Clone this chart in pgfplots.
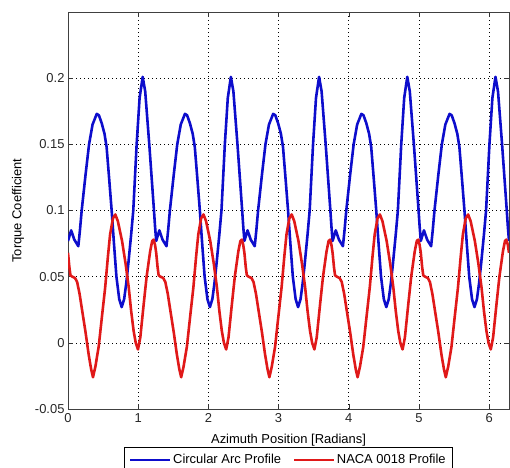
\documentclass[border=0pt]{standalone}
\usepackage{pgfplots}
\pgfplotsset{compat=1.18}
\usepackage{fontspec}
\setmainfont{Liberation Sans}
\definecolor{cblue}{rgb}{0.05,0.05,0.80}
\definecolor{cred}{rgb}{0.88,0.10,0.10}
\begin{document}
\begin{tikzpicture}
\useasboundingbox (0,0) rectangle (510bp,468bp);
\begin{axis}[
  at={(68bp,59bp)}, anchor=south west,
  scale only axis, width=441bp, height=397bp,
  xmin=0, xmax=6.2832, ymin=-0.05, ymax=0.25,
  xtick={0,1,2,3,4,5,6},
  ytick={-0.05,0,0.05,0.1,0.15,0.2},
  yticklabels={-0.05,0,0.05,0.1,0.15,0.2},
  xticklabels={0,1,2,3,4,5,6},
  scaled y ticks=false,
  tick align=inside, major tick length=5bp,
  tick style={black!80, line width=0.5pt},
  axis line style={black!75, line width=0.8pt},
  grid=major,
  grid style={black, line width=0.6pt, dash pattern=on 1bp off 3bp},
  font=\fontsize{13}{15}\selectfont,
  tick label style={font=\fontsize{13}{15}\selectfont, text=black!85},
  xticklabel style={yshift=-1bp},
  xlabel={Azimuth Position [Radians]},
  ylabel={Torque Coefficient},
  xlabel style={at={(axis description cs:0.5,-0.078)}, anchor=center, font=\fontsize{13}{15}\selectfont},
  ylabel style={at={(axis description cs:-0.1134,0.5)}, anchor=center, font=\fontsize{13}{15}\selectfont},
  legend columns=2,
  legend style={at={(axis description cs:0.5,-0.0957)}, anchor=north, draw=black, line width=0.6pt,
    font=\fontsize{13}{15}\selectfont, inner xsep=5bp, inner ysep=5bp,
    /tikz/every even column/.append style={column sep=10bp}},
  legend image code/.code={\draw[#1, line width=1.8pt] (0bp,0bp) -- (40bp,0bp);},
]
\addplot[cblue, line width=2.6pt, line join=round] coordinates {
(0,0.077)(0.045,0.085)(0.09,0.078)(0.147,0.073)(0.17,0.085)(0.195,0.100)(0.25,0.127)(0.30,0.150)(0.35,0.165)(0.41,0.173)(0.44,0.172)(0.48,0.166)(0.52,0.158)(0.55,0.148)(0.585,0.125)(0.622,0.100)(0.655,0.075)(0.69,0.050)(0.73,0.033)(0.765,0.027)(0.80,0.033)(0.83,0.045)(0.86,0.060)(0.90,0.082)(0.93,0.100)(0.978,0.150)(1.02,0.185)(1.064,0.201)(1.10,0.190)(1.158,0.150)(1.225,0.100)(1.24,0.088)
(1.2566,0.077)(1.3016,0.085)(1.3466,0.078)(1.4036,0.073)(1.4266,0.085)(1.4516,0.100)(1.5066,0.127)(1.5566,0.150)(1.6066,0.165)(1.6666,0.173)(1.6966,0.172)(1.7366,0.166)(1.7766,0.158)(1.8066,0.148)(1.8416,0.125)(1.8786,0.100)(1.9116,0.075)(1.9466,0.050)(1.9866,0.033)(2.0216,0.027)(2.0566,0.033)(2.0866,0.045)(2.1166,0.060)(2.1566,0.082)(2.1866,0.100)(2.2346,0.150)(2.2766,0.185)(2.3206,0.201)(2.3566,0.190)(2.4146,0.150)(2.4816,0.100)(2.4966,0.088)
(2.5133,0.077)(2.5583,0.085)(2.6033,0.078)(2.6603,0.073)(2.6833,0.085)(2.7083,0.100)(2.7633,0.127)(2.8133,0.150)(2.8633,0.165)(2.9233,0.173)(2.9533,0.172)(2.9933,0.166)(3.0333,0.158)(3.0633,0.148)(3.0983,0.125)(3.1353,0.100)(3.1683,0.075)(3.2033,0.050)(3.2433,0.033)(3.2783,0.027)(3.3133,0.033)(3.3433,0.045)(3.3733,0.060)(3.4133,0.082)(3.4433,0.100)(3.4913,0.150)(3.5333,0.185)(3.5773,0.201)(3.6133,0.190)(3.6713,0.150)(3.7383,0.100)(3.7533,0.088)
(3.7699,0.077)(3.8149,0.085)(3.8599,0.078)(3.9169,0.073)(3.9399,0.085)(3.9649,0.100)(4.0199,0.127)(4.0699,0.150)(4.1199,0.165)(4.1799,0.173)(4.2099,0.172)(4.2499,0.166)(4.2899,0.158)(4.3199,0.148)(4.3549,0.125)(4.3919,0.100)(4.4249,0.075)(4.4599,0.050)(4.4999,0.033)(4.5349,0.027)(4.5699,0.033)(4.5999,0.045)(4.6299,0.060)(4.6699,0.082)(4.6999,0.100)(4.7479,0.150)(4.7899,0.185)(4.8339,0.201)(4.8699,0.190)(4.9279,0.150)(4.9949,0.100)(5.0099,0.088)
(5.0265,0.077)(5.0715,0.085)(5.1165,0.078)(5.1735,0.073)(5.1965,0.085)(5.2215,0.100)(5.2765,0.127)(5.3265,0.150)(5.3765,0.165)(5.4365,0.173)(5.4665,0.172)(5.5065,0.166)(5.5465,0.158)(5.5765,0.148)(5.6115,0.125)(5.6485,0.100)(5.6815,0.075)(5.7165,0.050)(5.7565,0.033)(5.7915,0.027)(5.8265,0.033)(5.8565,0.045)(5.8865,0.060)(5.9265,0.082)(5.9565,0.100)(6.0045,0.150)(6.0465,0.185)(6.0905,0.201)(6.1265,0.190)(6.1845,0.150)(6.2515,0.100)(6.2665,0.088)(6.2832,0.077)
};
\addlegendentry{Circular Arc Profile}
\addplot[cred, line width=2.6pt, line join=round] coordinates {
(0,0.068)(0.02,0.057)(0.035,0.051)(0.06,0.050)(0.10,0.049)(0.13,0.046)(0.165,0.037)(0.20,0.025)(0.25,0.008)(0.295,-0.009)(0.33,-0.020)(0.356,-0.026)(0.39,-0.018)(0.437,-0.003)(0.48,0.018)(0.53,0.042)(0.57,0.066)(0.60,0.082)(0.64,0.094)(0.674,0.097)(0.71,0.092)(0.77,0.077)(0.82,0.060)(0.865,0.042)(0.90,0.024)(0.935,0.009)(0.965,0.000)(0.997,-0.005)(1.03,0.004)(1.078,0.029)(1.12,0.050)(1.17,0.069)(1.20,0.077)(1.22,0.078)(1.24,0.074)
(1.2566,0.068)(1.2766,0.057)(1.2916,0.051)(1.3166,0.050)(1.3566,0.049)(1.3866,0.046)(1.4216,0.037)(1.4566,0.025)(1.5066,0.008)(1.5516,-0.009)(1.5866,-0.020)(1.6126,-0.026)(1.6466,-0.018)(1.6936,-0.003)(1.7366,0.018)(1.7866,0.042)(1.8266,0.066)(1.8566,0.082)(1.8966,0.094)(1.9306,0.097)(1.9666,0.092)(2.0266,0.077)(2.0766,0.060)(2.1216,0.042)(2.1566,0.024)(2.1916,0.009)(2.2216,0.000)(2.2536,-0.005)(2.2866,0.004)(2.3346,0.029)(2.3766,0.050)(2.4266,0.069)(2.4566,0.077)(2.4766,0.078)(2.4966,0.074)
(2.5133,0.068)(2.5333,0.057)(2.5483,0.051)(2.5733,0.050)(2.6133,0.049)(2.6433,0.046)(2.6783,0.037)(2.7133,0.025)(2.7633,0.008)(2.8083,-0.009)(2.8433,-0.020)(2.8693,-0.026)(2.9033,-0.018)(2.9503,-0.003)(2.9933,0.018)(3.0433,0.042)(3.0833,0.066)(3.1133,0.082)(3.1533,0.094)(3.1873,0.097)(3.2233,0.092)(3.2833,0.077)(3.3333,0.060)(3.3783,0.042)(3.4133,0.024)(3.4483,0.009)(3.4783,0.000)(3.5103,-0.005)(3.5433,0.004)(3.5913,0.029)(3.6333,0.050)(3.6833,0.069)(3.7133,0.077)(3.7333,0.078)(3.7533,0.074)
(3.7699,0.068)(3.7899,0.057)(3.8049,0.051)(3.8299,0.050)(3.8699,0.049)(3.8999,0.046)(3.9349,0.037)(3.9699,0.025)(4.0199,0.008)(4.0649,-0.009)(4.0999,-0.020)(4.1259,-0.026)(4.1599,-0.018)(4.2069,-0.003)(4.2499,0.018)(4.2999,0.042)(4.3399,0.066)(4.3699,0.082)(4.4099,0.094)(4.4439,0.097)(4.4799,0.092)(4.5399,0.077)(4.5899,0.060)(4.6349,0.042)(4.6699,0.024)(4.7049,0.009)(4.7349,0.000)(4.7669,-0.005)(4.7999,0.004)(4.8479,0.029)(4.8899,0.050)(4.9399,0.069)(4.9699,0.077)(4.9899,0.078)(5.0099,0.074)
(5.0265,0.068)(5.0465,0.057)(5.0615,0.051)(5.0865,0.050)(5.1265,0.049)(5.1565,0.046)(5.1915,0.037)(5.2265,0.025)(5.2765,0.008)(5.3215,-0.009)(5.3565,-0.020)(5.3825,-0.026)(5.4165,-0.018)(5.4635,-0.003)(5.5065,0.018)(5.5565,0.042)(5.5965,0.066)(5.6265,0.082)(5.6665,0.094)(5.7005,0.097)(5.7365,0.092)(5.7965,0.077)(5.8465,0.060)(5.8915,0.042)(5.9265,0.024)(5.9615,0.009)(5.9915,0.000)(6.0235,-0.005)(6.0565,0.004)(6.1045,0.029)(6.1465,0.050)(6.1965,0.069)(6.2265,0.077)(6.2465,0.078)(6.2665,0.074)(6.2832,0.068)
};
\addlegendentry{NACA 0018 Profile}
\end{axis}
\end{tikzpicture}
\end{document}
